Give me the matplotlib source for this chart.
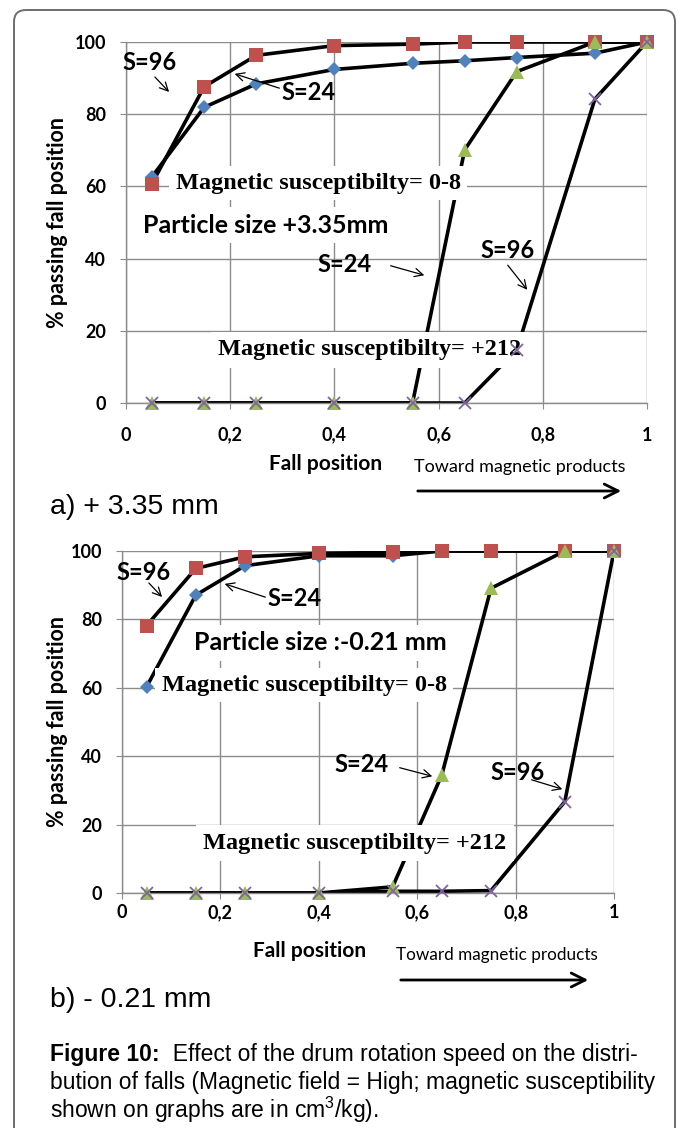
import matplotlib.pyplot as plt
import matplotlib.patches as mpatches
from matplotlib.transforms import IdentityTransform

# fall positions (shared)
fall_pos = [0.05, 0.15, 0.25, 0.4, 0.55, 0.65, 0.75, 0.9, 1.0]

# a) +3.35 mm
a_s96_low = [60.8, 87.6, 96.3, 99.0, 99.4, 100, 100, 100, 100]
a_s24_low = [62.7, 81.9, 88.4, 92.4, 94.1, 94.8, 95.7, 96.9, 100]
a_s24_high = [0, 0, 0, 0, 0, 70.1, 91.8, 100, 100]
a_s96_high = [0, 0, 0, 0, 0, 0, 14.7, 84.2, 100]

# b) -0.21 mm
b_s96_low = [78.2, 94.9, 98.3, 99.3, 99.6, 100, 100, 100, 100]
b_s24_low = [60.3, 87.1, 95.7, 98.6, 98.6, 100, 100, 100, 100]
b_s24_high = [0, 0, 0, 0, 1.8, 34.5, 89.1, 100, 100]
b_s96_high = [0, 0, 0, 0, 0.5, 0.5, 0.7, 26.7, 100]

xticks = [0, 0.2, 0.4, 0.6, 0.8, 1.0]
xtick_labels = ['0', '0,2', '0,4', '0,6', '0,8', '1']
yticks = [0, 20, 40, 60, 80, 100]

W, H = 681, 1128
fig = plt.figure(figsize=(W / 100, H / 100), dpi=100)

SANS = 'Lato'
SERIF = 'Liberation Serif'
GRID = '#8c8c8c'


def px_axes(x0, y0, x1, y1):
    return fig.add_axes([x0 / W, 1 - y1 / H, (x1 - x0) / W, (y1 - y0) / H])


def setup(ax, xpad):
    ax.set_xlim(0, 1)
    ax.set_ylim(0, 100)
    ax.set_xticks(xticks)
    ax.set_xticklabels(xtick_labels)
    ax.set_yticks(yticks)
    ax.grid(True, color=GRID, lw=1.0)
    for s in ['top', 'right']:
        ax.spines[s].set_visible(False)
    for s in ['left', 'bottom']:
        ax.spines[s].set_color(GRID)
        ax.spines[s].set_linewidth(1.0)
    ax.tick_params(axis='y', length=4.5, color=GRID, pad=10)
    ax.tick_params(axis='x', length=4, color=GRID, pad=xpad)
    for lab in ax.get_xticklabels() + ax.get_yticklabels():
        lab.set_family(SANS)
        lab.set_weight('bold')
        lab.set_fontsize(13)
    ax.set_axisbelow(True)


def draw_series(ax, ys, marker, color, ms):
    ax.plot(fall_pos, ys, color='black', lw=2.6, zorder=2, solid_capstyle='round')
    mew = 1.3 if marker == 'x' else 0
    ax.plot(fall_pos, ys, ls='none', marker=marker, color=color, ms=ms,
            mew=mew, zorder=5, clip_on=False)


def boxed(ax, x, y, s, family, size, pad=0.25):
    ax.text(x, y, s, transform=fig.transFigure, family=family, weight='bold',
            fontsize=size, ha='center', va='center', zorder=4,
            bbox=dict(boxstyle='square,pad=%s' % pad, fc='white', ec='none'))


def label(x, y, s, size=17):
    fig.text(x / W, 1 - y / H, s, family=SANS, weight='bold', fontsize=size,
             ha='center', va='center', zorder=6)


def arrow(x0, y0, x1, y1, lw=0.9, hl=6, hw=3):
    fig.add_artist(mpatches.FancyArrowPatch(
        (x0 / W, 1 - y0 / H), (x1 / W, 1 - y1 / H), transform=fig.transFigure,
        arrowstyle='->,head_length=%s,head_width=%s' % (hl, hw), lw=lw,
        color='black', mutation_scale=1, zorder=6))


# ---------- chart a ----------
ax1 = px_axes(126, 42, 647, 403)
setup(ax1, 13)
draw_series(ax1, a_s24_low, 'D', '#4F81BD', 7.5)
draw_series(ax1, a_s96_low, 's', '#C0504D', 9.5)
draw_series(ax1, a_s24_high, '^', '#9BBB59', 9.5)
draw_series(ax1, a_s96_high, 'x', '#8064A2', 9)
ax1.set_ylabel('% passing fall position', family=SANS, weight='bold', fontsize=15.5)
ax1.yaxis.set_label_coords(-0.112, 0.5)

boxed(ax1, 318 / W, 1 - 183 / H, 'Magnetic susceptibilty= 0-8', SERIF, 17.5)
boxed(ax1, 266 / W, 1 - 225 / H, 'Particle size +3.35mm', SANS, 18)
boxed(ax1, 370 / W, 1 - 350 / H, 'Magnetic susceptibilty= +212', SERIF, 17.5, pad=0.3)
label(150, 63, 'S=96')
arrow(153, 75, 171, 94)
label(309, 92, 'S=24')
arrow(282, 89, 232, 73)
label(345, 265, 'S=24')
arrow(388, 265, 427, 276)
label(508, 250, 'S=96')
arrow(506, 263, 529, 292)

fig.text(326 / W, 1 - 464 / H, 'Fall position', family=SANS, weight='bold',
         fontsize=15, ha='center', va='center')
fig.text(520 / W, 1 - 467 / H, 'Toward magnetic products', family=SANS,
         fontsize=13, ha='center', va='center')
arrow(415, 491, 624, 491, lw=2, hl=10, hw=5)
fig.text(50 / W, 1 - 507 / H, 'a) + 3.35 mm', family='Liberation Sans',
         fontsize=20.5, ha='left', va='center')

# ---------- chart b ----------
ax2 = px_axes(122, 551, 614, 893)
setup(ax2, 4)
draw_series(ax2, b_s24_low, 'D', '#4F81BD', 7.5)
draw_series(ax2, b_s96_low, 's', '#C0504D', 9.5)
draw_series(ax2, b_s24_high, '^', '#9BBB59', 9.5)
draw_series(ax2, b_s96_high, 'x', '#8064A2', 9)
ax2.set_ylabel('% passing fall position', family=SANS, weight='bold', fontsize=15.5)
ax2.yaxis.set_label_coords(-0.11, 0.5)

boxed(ax2, 320 / W, 1 - 643 / H, 'Particle size :-0.21 mm', SANS, 18)
boxed(ax2, 304 / W, 1 - 685 / H, 'Magnetic susceptibilty= 0-8', SERIF, 17.5)
boxed(ax2, 355 / W, 1 - 843 / H, 'Magnetic susceptibilty= +212', SERIF, 17.5, pad=0.3)
label(144, 572, 'S=96')
arrow(147, 581, 164, 599)
label(295, 598, 'S=24')
arrow(268, 598, 222, 583)
label(362, 765, 'S=24')
arrow(397, 767, 435, 777)
label(518, 772, 'S=96')
arrow(529, 779, 565, 790)

fig.text(310 / W, 1 - 951 / H, 'Fall position', family=SANS, weight='bold',
         fontsize=15, ha='center', va='center')
fig.text(497 / W, 1 - 955 / H, 'Toward magnetic products', family=SANS,
         fontsize=12.3, ha='center', va='center')
arrow(398, 980, 591, 980, lw=2, hl=10, hw=5)
fig.text(50 / W, 1 - 1000 / H, 'b) - 0.21 mm', family='Liberation Sans',
         fontsize=20.5, ha='left', va='center')

# ---------- caption ----------
CAP = 'Liberation Sans'
CS = 16.5
t1 = fig.text(50 / W, 1 - 1054 / H, 'Figure 10:', family=CAP, weight='bold',
              fontsize=CS, ha='left', va='center')
fig.add_artist(plt.Annotation('  Effect of the drum rotation speed on the distri-',
                              xy=(1, 0), xycoords=t1, va='bottom', ha='left',
                              family=CAP, fontsize=CS))
fig.text(50 / W, 1 - 1083 / H,
         'bution of falls (Magnetic field = High; magnetic susceptibility',
         family=CAP, fontsize=CS, ha='left', va='center')
fig.text(50 / W, 1 - 1110 / H, r'shown on graphs are in cm$^{\mathregular{3}}$/kg).',
         family=CAP, fontsize=CS, ha='left', va='center')

# rounded frame round the whole figure
fig.add_artist(mpatches.FancyBboxPatch(
    (14, -30), 661, H - 10 + 30, boxstyle='round,pad=0,rounding_size=12',
    transform=IdentityTransform(), fc='none', ec='#6e6e6e', lw=1.4))

fig.savefig('out.png', dpi=100)
